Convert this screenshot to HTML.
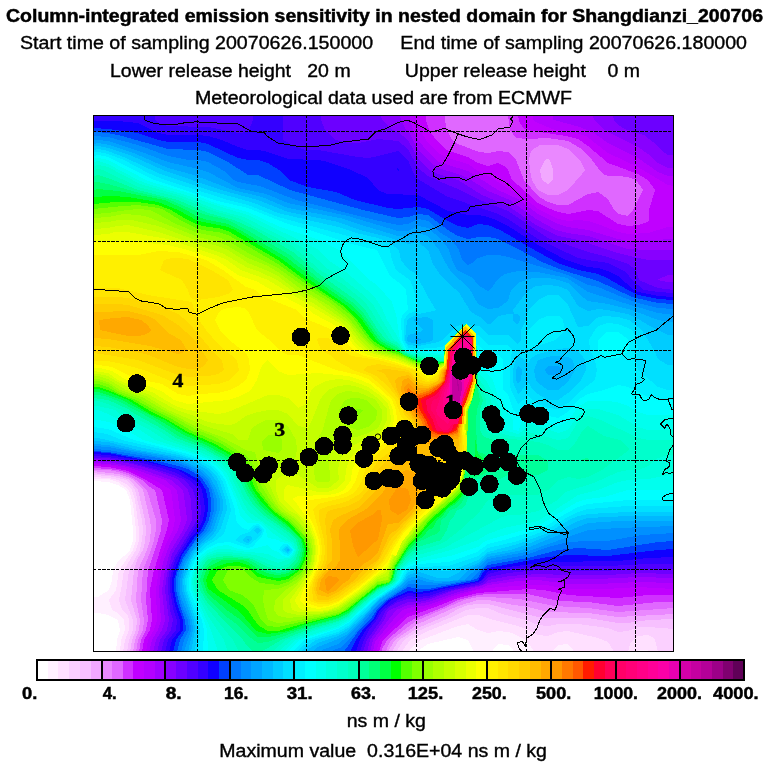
<!DOCTYPE html>
<html><head><meta charset="utf-8"><title>Column-integrated emission sensitivity</title>
<style>
html,body{margin:0;padding:0;background:#fff;}
body{width:768px;height:768px;overflow:hidden;}
svg{display:block;}
text{font-family:"Liberation Sans", sans-serif;fill:#000;white-space:pre;}
.serif{font-family:"Liberation Serif", serif;font-weight:bold;}
</style></head><body>
<svg width="768" height="768" viewBox="0 0 768 768">
<rect width="768" height="768" fill="#fff"/>
<g shape-rendering="crispEdges">
<rect x="93" y="115" width="581" height="537" fill="#ffffff"/>
<path fill="#fff0ff" d="M93 115l581 0 0 537-161 0 0-2-5-5-10-1-5 6 0 2-20 0 0-2-5-10-10-3-30 7-9 6-1 2-302 0 1-12 3-10-2-10-10-5-10-2-5 0 0-16 5 0 11-7 3-10 1-10 6-10 9-7 2-3 3-10 0-10-3-30-4-10-8-5-10-3-15-1z"/>
<path fill="#ffe0ff" d="M93 115l581 0 0 537-26 0 0-2-10 0 0 2-65 0 0-2-5-6-10 1-5 5 0 2-20 0 0-2-7-10-12-6-6-2-10-1-10 2-10-3-10-6-10 2-37 14-12 10-1 2-288 0 1-12 4-10-1-10-6-7-6-3-3-10 7-10 3-20 14-20 3-10 0-10-3-26-4-14-11-8-10-3-15 0z"/>
<path fill="#fbd0ff" d="M93 115l581 0 0 537-16 0-3-12-3-3-4-2-10 1-4 3-4 5-2 8-15 0 0-2-5-8-10-4-30-7-10 1-10 4-10-1-9-5-11-4-24-6-16-5-10 0-40 16-18 9-7 10-1 2-279 0 2-12 4-10 0-10-1-4-6-6-3-10 2-10 3-20 12-20 3-10 0-10-4-30-3-10-2-2-2-3-10-5-10-2-15-1z"/>
<path fill="#f7c0ff" d="M93 115l581 0 0 514-26-2-10 0-10 4-10 1-10-4-30-4-20 0-10 2-10-1-12-5-24-6-14-6-10 0-12 2-14 7-34 14-14 9-6 9-1 3-270 0 2-12 4-10 0-10-8-20 4-30 11-20 2-10 1-10-1-10-7-30-3-5-6-5-8-2-10-2-15-1z"/>
<path fill="#f2a8ff" d="M93 115l581 0 0 504-26 1-20 3-10 0-30-5-40 0-10-1-50-13-10 0-10 1-10 4-10 6-30 13-19 12-6 10 0 2-263 0 2-12 4-10 1-10-6-20 3-30 3-10 6-10 2-8 1-12-1-10-7-30-8-10-12-4-25-3z"/>
<path fill="#ea88ff" d="M93 115l581 0 0 499-56 3-30-4-40-1-20-5-20-3-20-4-10 0-20 6-40 18-23 16-6 10 0 2-256 0 2-12 4-10 1-10-4-20 2-30 9-20 3-10 1-12-1-8-7-30-9-10-6-3-10-3-25-3zM546 159l-3 5-3 6 2 10 6 4 5-4 0-10-3-10-2-1z"/>
<path fill="#e068ff" d="M93 115l581 0 0 493-56 4-30-4-34-2-34-7-32-2-10 0-14 3-48 21-25 19-4 8-1 4-250 0 2-12 5-10 1-10-3-20 2-30 8-20 3-10 2-10 0-10-9-30-11-10-8-5-10-3-10-2-15 0zM540 145l-8 5-2 4-1 6 1 10 2 10 6 10 10 5 10 0 4-2 6-3 14-16 3-4-5-10-6-5-6-6-10-4-10 0z"/>
<path fill="#d030ff" d="M93 115l352 0 0 5 2 10 5 10 6 4 21 8 9 1 10-2 10 1 2 1 6 7 8 20 14 16 10 6 10 3 10 0 20-11 10-2 10 7 6 11 4 4 10 2 5-6 10-20-7-10-8-3-10-1-9 0-5-1-3-3-9-12-4-5-8-7-12-7-20-3-20 1-12-1-3-4-3-4-2-15 166 0 0 487-16 0-30 3-10 1-30-4-30-1-30-7-40 0-10 1-20 5-14 7-30 12-8 5-18 15-6 10 0 3-243 0 2-12 5-10 2-10-2-20 2-30 7-20 6-20 1-10-7-30-7-4-6-6-12-6-8-3-14-2-15-1z"/>
<path fill="#c000ff" d="M93 115l333 0 0 5 3 10 7 10 10 10 22 7 10 6 10 3 10-3 6 3 4 4 4 10 6 5 20 18 10 5 10 4 10 2 20-4 10 1 20 13 10 2 10-1 9-3 2-2 0-10 6-20-7-10-10-6-30-11-20-17-10-7-12-3-39-6-4-2-4-7-1-6 156 0 0 480-26 0-30 3-50-3-24-5-16-1-50 4-20 5-20 8-30 11-25 23-4 12-237 0 2-12 6-10 2-10-2-30 3-16 9-30 5-14 2-10-7-30-16-10-18-9-20-4-15-1z"/>
<path fill="#b400ff" d="M93 115l323 0 0 5 4 10 8 13 10 10 10 5 20 6 10 7 14 7 18 12 8 3 20 16 20 10 10 2 10-1 10 1 10 3 20 8 10 2 20-1 20-6 6 0 0 362-36-2-32 2-38 0-22-4-18 0-40 3-11 2-19 6-29 11-21 6-13 11-15 16-4 12-230 0 2-12 6-10 3-10-1-30 4-30 6-16 7-14 2-10-4-30-13-8-30-13-20-4-15-1zM533 115l141 0 0 71-6-1-30-18-30-14-22-17-10-3-21-3-17-7-5-3z"/>
<path fill="#a000ff" d="M93 115l317 0 0 5 3 10 5 10 10 12 9 9 11 4 10 3 10 3 30 19 20 9 20 15 20 10 10 3 20 3 30 9 10 2 46-2 0 344-36-1-40 2-30 0-30-4-20 1-30 4-6 3-24 6-30 11-20 3-5 2-5 4-20 24-3 4-2 10-224 0 3-12 6-10 3-10-2-30 1-10 3-18 7-18 8-14 3-10-4-30-12-10-37-13-20-3-15-1zM553 115l121 0 0 61-6 0-10-4-20-14-30-15-14-10-14-6-26-7-1 0z"/>
<path fill="#8800ff" d="M93 115l307 0 1 5 5 10 4 4 8 16 12 12 8 6 10 3 10 3 10 4 20 13 22 9 8 6 18 13 20 11 12 3 20 3 30 10 10 3 20 1 26 0 0 328-36-1-40 2-30 0-30-2-20 1-30 5-7 3-23 6-30 10-9 2-11 1-12 5-23 30-3 12-217 0 3-12 6-10 3-10-3-30 3-20 5-18 13-22 4-10-1-10-3-20-12-10-27-10-16-4-20-4-15-1zM593 115l81 0 0 53-6 0-10-5-10-9-10-7-34-17-10-10z"/>
<path fill="#6c00ff" d="M93 115l288 0 1 5 10 10 6 2 10 8 10 18 10 11 10 5 20 6 24 15 26 11 28 19 14 7 8 4 20 4 40 13 20 5 10 2 26 0 0 15-6 0-11 5 11 2 6 0 0 292-36-1-30 2-40 0-30-1-28 2-22 4-4 4-6 2-23 4-27 10-10 2-10 0-18 8-2 1-4 9-14 20-3 12-210 0 3-12 7-10 2-10-4-30 1-10 2-10 4-16 15-24 5-10-1-20-3-10-9-10-4-2-21-8-22-6-24-4-15-1zM613 115l61 0 0 40-6 0-7-5-8-8-9-7-17-5-9-5-4-5z"/>
<path fill="#5000ff" d="M93 115l228 0 0 5 4 10 11 10 12 3 10 0 20-4 20 2 10 8 10 19 10 8 20 9 10 4 22 11 28 11 40 27 40 14 20 5 20 7 8 6 3 10 9 4 10 4 16 2 0 279-26 0-50 2-60-1-30 3-20 4-4 5-6 3-26 5-24 8-10 1-10 0-10 3-10 6-2 2-5 10-14 20-4 12-202 0 3-12 7-10 2-10-3-10-2-20 0-10 2-12 5-12 22-36-1-20-3-10-8-10-9-4-17-6-27-7-24-5-15 0z"/>
<path fill="#3400ff" d="M93 115l62 0 0 5 3 3 10 3 40 1 30 6 10-1 1-2 4-10 0-5 30 0 0 25 13 7 9 3 13 0 40 7 10 1 10-2 20-5 10 9 6 14 2 4 32 19 10 3 16 6 24 8 10 5 30 20 40 19 10 2 20 3 10 5 8 4 6 8 12 10 14 2 16 1 0 271-26 0-40 2-60 0-40 3-20 5-5 6-5 3-31 7-19 6-10 1-10-1-10 4-15 10-7 11-7 9-5 10-4 12-195 0 3-12 8-10 1-10-4-12-3-18 0-10 2-10 3-10 7-12 18-28 1-10-1-10-1-10-1-2-9-8-13-7-14-5-28-7-26-4-15-1z"/>
<path fill="#1000ff" d="M93 122l0-1 25 0 20 2 20 10 10 2 30 0 10 1 14 4 16 7 10 3 10 0 10 2 20 7 30 1 10 2 23 8 17 8 10 12 9 4 31 1 30 16 20 4 10 0 10 2 8 3 12 6 30 19 28 15 22 7 10 1 10 3 10 5 16 14 4 2 20 4 16 1 0 260-26 1-30 3-70 1-40 5-20 4-6 9-4 2-36 7-14 4-10 1-10-1-16 7-12 10-4 8-10 12-6 10-4 12-187 0 3-12 8-10 0-10-5-14-3-16 0-10 2-10 7-16 11-18 6-6 5-10 2-10-1-10-2-10-4-7-4-3-16-10-38-10-32-5-15-1zM397 168l2 2-1 1-1-1z"/>
<path fill="#0040ff" d="M93 128l15 1 30 4 20 7 10 2 30 0 10 2 30 14 10 2 10 0 10 3 14 9 7 8 19 7 28 5 19 8 33 8 10 1 20-2 10 2 20 12 10 5 10 2 10-4 10 1 12 5 38 22 20 11 20 7 20 4 9 4 21 12 10 5 20 4 16 1 0 249-16 1-50 6-40-1-20 2-60 11-4 3-6 10-38 7-12 3-10 1-10-1-19 9-11 10-4 8-12 13-6 9-5 10-1 2-177 0 3-12 7-10 0-10-6-16-3-14 0-10 2-7 6-18 12-17 7-8 5-10 2-10 0-10-2-10-6-10-19-10-36-10-37-7-15-1z"/>
<path fill="#0078ff" d="M96 132l12 1 14 3 46 13 30 1 10 2 20 10 20 13 10 0 32 15 73 20 35 8 10-1 10-3 10 1 20 15 10 6 10 3 10-2 10 0 10 2 20 10 24 13 20 8 26 8 10 3 34 16 26 6 16 1 0 237-16 1-50 8-30-2-20 2-30 8-40 7-6 5-4 8-5 2-45 9-10 0-10-2-21 13-9 8-6 9-13 13-11 16-3 4-1 2-167 0 3-12 6-10-1-10-5-14-4-16 0-12 2-8 5-12 13-19 8-9 5-10 2-10 0-10-2-11-6-9-5-5-10-6-10-3-24-6-46-8-15-1 0-319z"/>
<path fill="#0090ff" d="M93 136l15 1 30 8 30 11 20 4 10 0 10 2 16 9 10 9 4 2 10 2 12 2 36 14 79 20 23 5 10-1 10-5 10 2 10 10 14 9 7 10 3 10 6 5 4-2 6-5 10-3 10 0 10 2 60 18 20 10 10 2 24 10 16 6 20 5 16 1 0 224-32 2-35 6-19 0-20 1-20 5-22 8-38 7-18 18-3 0-19 4-20 1-20-1-4 4-19 12-7 5-27 33-11 10-7 2 0 2-152 0 3-12 5-10-1-10-6-14-4-16 0-10 2-10 4-11 11-17 12-12 3-6 4-14 0-10-2-10-5-10-10-8-9-5-10-4-20-5-50-8-15-1z"/>
<path fill="#00a4ff" d="M93 140l5 0 10 1 34 11 26 10 30 7 10 3 30 16 28 6 22 9 60 13 50 15 10 0 10-5 10 2 14 12 7 10 3 10 5 10 16 8 5 7 10 6 2-1 8-11 7-5 13-3 20 1 29 6 21 14 46 14 24 7 16 2 0 211-56 2-30 2-62 22-38 7-24 21-2 0-24 3-10-1-10-3-10 2-4 5-6 4-19 13-31 33-10 8-16 6-2 2-136 0 7-22-1-10-10-26 0-14 4-16 6-11 8-11 11-10 2-4 6-18 0-10-3-10-5-10-10-10-11-5-12-5-16-3-52-10-15-1z"/>
<path fill="#00b8ff" d="M93 144l5-1 12 2 26 9 32 14 26 7 39 15 29 7 26 11 52 10 28 9 30 9 10 0 10-3 10 3 11 14 5 10 7 12 18 16 9 16 10 5 10-1 10-7 3-11 9-8 12-4 16 0 10 2 10 3 7 7 5 5 8 6 20 3 24 6 26 10 10 2 6 0 0 199-56 0-30 2-10 4-24 10-32 13-34 7-10 8-10 5-10 10-10 1-10 0-8-1-12-4-10 2-6 7-24 16-13 15-17 18-10 5-20 8-4 3-1 2-125 0 5-22-1-10-10-30 0-10 3-14 7-14 6-7 15-15 7-20 0-10-3-10-7-13-8-7-14-7-22-7-35-6-23-5-15-1zM416 338l-2 2 2 1 6-1-4-2zM548 366l-3 4 3 5 10 0 4-5 0-2-4-2z"/>
<path fill="#00ccff" d="M93 146l5 0 10 2 24 8 31 14 58 20 37 10 30 12 50 10 22 8 28 7 20 7 10-2 10 8 5 14 8 12 10 10 7 5 13 21 9 5 7 7 3 0 8-8 10-2 5 0 0 6 3 4 2 0 2-4 0-3-2-3-4 0-1-4 12-16 4-4 7-4 12-1 10 1 10 4 10 16 10 5 10-2 9 1 21 4 12 6 8 5 20 10 6 0 0 181-46 0-40 2-10 3-26 13-24 10-17 6-23 4-10 9-16 7-4 3-10 5-10 0-19-6-11 3-6 9-24 16-14 16-18 16-8 4-12 4-8 3-11 7 0 2-116 0 4-22-1-10-10-30-1-10 7-20 4-8 4-5 14-11 4-6 7-20 0-10-6-18-5-7-6-6-17-9-15-4-36-6-30-8-15-1zM246 539l2 2 1-1-1-1zM258 529l-1 1 1 1zM288 548l-2 2 2 2 1-2zM426 317l-8 1-5 2 10 10-3 2-12 3-1 5 1 2 10 2 11-2 4-2 0-20-4-2zM518 366l-2 4 0 10 2 4 3-4 1-10zM552 356l-4 1-10 3-4 10 2 10 2 3 10 7 10 0 10-8 7-12-2-10-3-2-2-1-8-1z"/>
<path fill="#00e0ff" d="M93 150l5-1 10 2 18 7 32 15 50 17 46 13 24 10 60 14 18 6 22 5 10 4 11 8 2 10 7 9 8 5 12 23 8 13-2 1-16 3-10 5-1 1-2 20 3 5 10 1 20-4 4-2 4-4 4-3 6-7 6-1 4-2 2 2 11 1 9 9 20 0 9 9 1 0 3-4 0-10 4-8 3-11 10-11 10-5 10 0 10 10 10 22 10-1 8-8 8-2 14 1 11 3 13 10 12 20 4 9 10 6 6 0 0 147-46 0-40 2-10 2-9 4-21 13-30 11-30 8-10 8-20 8-10 3-30-2-10 3-6 10-25 18-15 15-14 13-10 6-22 6-14 10 0 2-107 0 2-22-1-10-10-30-1-10 6-20 5-8 10-9 8-5 7-10 6-18-1-10-6-18-5-8-7-6-13-8-17-5-30-6-50-11-5 0zM246 536l-4 4 2 2 4 1 4-3 0-2-2-2zM256 528l-2 2 2 3 2 1 3-4-3-2zM286 547l-2 2 0 1 4 3 2-3-2-3zM568 348l-10 1-20 5-7 4-3 6-3-4-7-5 0 1-3 6-2 8 0 12 5 12 4-4 6-8 5 8 5 4 10 6 10 0 10-7 13-13 5-10-1-10-4-6-4-3z"/>
<path fill="#00f0ff" d="M93 152l5 0 10 2 16 6 24 13 17 7 63 20 20 5 30 12 48 13 22 6 21 4 19 8 2 2 2 10 4 10 14 10 4 10 2 10 2 10-10 4-4 6 0 20 4 7 0 1 10 1 25-2 23-24 10 11 0 1 2 0 10 10 20 0 4 5-2 18 0 18 1 4 7 14 10-8 10 8 10 4 10 1 10-6 10-10 17-13 2-10-2-10-5-10-1-10 6-10 3-4 10-3 10 1 10 4 4 2 5 10 1 11-2 9 2 10 20 17 10 3 6 0 0 116-46 0-40 3-10 3-10 5-22 13-28 11-30 7-10 8-20 7-10 3-30 1-10 2-7 13-7 6-19 12-27 26-10 6-28 8-12 10-1 2-99 0 2-22-2-10-11-30 0-10 5-18 6-8 10-9 8-5 8-6 7-24-2-10-6-18-5-8-8-8-12-6-20-7-56-13-15-6-14-2zM256 526l-4 3-3 3-9 3-5 5 11 5 2 0 2-1 10-8 2-4 0-2-2-2-2-2zM288 545l-4 2-3 3 3 2 4 2 2-2 2-2zM547 316l12 0 4 4 2 10-5 6-5 4-21 7-6 3-2-10 2-9 10-11z"/>
<path fill="#00ffff" d="M93 156l5-1 10 2 46 23 64 21 30 7 40 16 22 6 38 13 20 5 9 2 13 26 8 6 8 8 2 20-5 4-2 6 1 20 5 10 1 0 36 1 0-5 22-23 10 11 0 11 2 0 10 10 10 0 5 5 0 30 5 4 2 6 3 10 5 5 10-10 10 7 10 4 10 2 10-6 10-12 10-6 16-4 14-5 10 2 14 7 8 4 8 1 16 1 0 100-46 0-40 4-10 3-18 10-12 8-10 5-34 10-16 4-11 8-19 7-10 3-30 2-10 3-3 3-5 10-4 4-22 16-26 23-10 6-34 11-10 10-1 2-90 0 1-22-2-10-13-30 0-10 2-10 4-10 3-5 10-7 10-5 11-1 15 5 4 1 4-1 3-3 3-4 4-3 2-7-6-6-6 2-4 4-6-2-4-4-2-4-1-10-3-10-7-20-7-10-10-8-20-8-54-14-26-11-15-2zM284 544l-3 2-2 4 4 4 5 2 4-4 1-2-5-6zM607 332l1 0 10 0 10 7 1 11-1 2-10 6-10 0-10-7 0-11z"/>
<path fill="#00ffee" d="M93 158l5 0 10 2 40 21 44 13 26 10 30 8 30 14 41 14 20 10 15 14 15 16 7 4 9 10 7 8 4 12 4 26 6 10 2 1 36 3 0-8 22-23 10 11 0 27 2 4 15 15 3 10 2 6 6 5 3 11 6 8 0 10 2 0 3 1 1-1 3-10 6-6 10 6 20 6 10-5 10-14 10-6 20 0 8 1 12 4 10 6 10 3 26 0 0 75-46 0-24 7-16 2-11 3-21 13-8 5-10 6-50 14-6 3-4 4-28 9-32 6-10 3-5 5-4 10-3 4-24 16-24 22-10 6-39 12-10 10 0 2-81 0-1-22-3-10-13-30 0-10 2-10 5-12 10-8 10-4 10-1 10 4 10 1 20-5 4 5 6 2 4 4 6 1 4-3 2-4-6-7-8-1-2-2-10-2-1-2-1-6-6-6-2-1-11 0-3-3-4-5-4-15-10-22-5-8-12-10-21-8-45-12-13-8-21-10-11-2-5 0z"/>
<path fill="#00ffdd" d="M93 162l5-1 10 3 30 16 10 4 38 11 32 11 30 9 71 35 9 10 18 12 28 24 8 12 5 12 9 14 3 6 5 10 4 2 36 4 0-10 22-23 10 11 0 29 2 10 8 7 14 28 3 12 0 10 1 0 14 4 6-4 4-7 30 10 10-3 10-15 10-6 10 0 10 3 12 4 18 11 10 3 26 0 0 45-6 0-20 4-20 1-10 2-20 8-20 5-26 17-14 9-34 7-16 6-10 6-27 10-33 9-10 4-6 7-4 10-3 4-24 16-21 19-12 7-42 14-11 10-1 2-66 0-7-22-18-40-1-10 3-10 4-10 9-7 10-4 10 0 10 2 22 2 8 1 10 5 12-1 3-4 2-4-3-5-2-3-7-2-12-8-9-10-10-2-4-4-6-8-15-34-5-6-9-8-17-7-41-13-15-10-16-8-16-8-10-4-5 0z"/>
<path fill="#00ffcc" d="M93 166l5-1 10 2 32 17 42 12 35 14 27 7 58 30 9 7 7 6 10 9 9 5 29 23 8 9 14 24 6 10 4 2 5 8 5 3 20 4 10 0 6 2 1-13 21-23 10 11 0 30 2 14 6 8 7 14 2 10 0 20 1 0 12 5 12 2 6-1 4-4 30 8 10-2 10-16 10-6 13 4 37 18 10 2 26 0 0 15-6 0-10 3-10 8-9 4-11 0-10 2-24 11-26 8-5 3-5 6-20 11-20 4-10 0-8 3-56 30-26 7-10 6-8 9-3 10-3 4-12 6-10 8-24 20-10 6-22 6-24 10-12 10-1 2-51 0-4-12-16-24-13-26-1-10 2-10 2-5 4-5 6-5 10-3 10 0 28 3 22 8 14-5 3-4 1-4-2-6-2-2-43-30-5-8-16-34-11-10-19-9-33-11-15-10-26-13-9-7-17-4-5 0z"/>
<path fill="#00ffbb" d="M93 170l5-1 5 1 35 17 40 10 33 13 27 8 54 28 11 9 17 15 24 15 20 16 8 11 6 10 12 18 8 3 5 7 5 3 20 6 16 1 1-14 20-22 1 0 10 10 0 30 2 12 0 7 5 7 3 10 0 30 2 3 16 5 34 4 10 3 10 5 10 0 6-5 9-15 5-4 16 10 16 4 9 9 0 1-27 20-14 7-10 2-10-2-9 3-11 10-10 5-30 0-20 5-10 14-12 10-6 6-14 11-8 4-20 6-10 7-10 12-2 10-2 2-20 12-26 23-10 5-26 8-26 10-12 10-1 2-35 0 0-2-5-10-5-6-20-25-10-17-2-12 2-11 6-9 4-3 10-3 10 0 24 3 16 7 11 3 9-3 6-6 3-8 0-4-3-4-6-7-27-19-9-8-8-10-13-28-10-10-15-8-33-12-15-10-26-14-10-6-14-6-10-3-5 0z"/>
<path fill="#00ff99" d="M93 176l5-1 10 3 30 12 40 10 30 13 26 7 20 9 39 23 25 21 35 25 13 13 12 19 8 10 12 6 3 4 7 4 20 6 16 1 1-15 20-22 1 0 10 10 2 47 0 7 5 12-3 10 0 20 2 4 2 3 9 3 5 10 10 5 30 0 9 5 1 0 0 10-10 5-30 0-10 5-10 7-2-1-4-6-4-1-2 1-2 0-1 12-5 5-2 7-3 4-6 2-3 6-4 4-3 10-6 10-3 1-20 6-10 8-10 14-3 11-4 4-13 6-32 27-8 4-28 8-29 11-13 8-4 2-1 0 0 2-10 0-1-2-4-3-5-7-15-15-10-11-10-10-8-14-2-10 2-10 8-11 10-2 10-1 20 2 6 2 14 7 10 3 3 0 7-3 8-8 3-9-2-6-1-4-8-8-26-18-8-8-7-11-13-25-10-10-21-12-27-10-12-8-29-16-7-5-20-9-15-2zM587 458l2 2-1 2-8-2z"/>
<path fill="#00ff77" d="M93 182l4 0 11 2 28 8 32 7 35 15 25 6 19 10 43 25 28 23 34 24 12 12 18 26 16 8 3 4 7 3 20 7 16-1 0-9 1-6 21-23 10 11 1 52 3 14-3 10-1 10 1 30 1 2 6 2 3 2 1 5 0 9-3 4-7 2-10 4-2 14-4 8-6 6-6 2-4 7-5 3-1 10-2 3-20 9-4 6-6 4-11 16-4 12-5 5-10 4-14 11-16 14-10 5-32 9-38 14-10 1-10-7-10-11-10-7-20-19-5-9-3-10 3-10 5-6 5-4 5-1 9-1 21 1 20 12 10 2 10-2 10-9 3-12-1-4-2-6-10-10-24-18-9-10-7-10-10-22-10-10-20-12-30-12-24-16-36-19-10-4-10-2-5 0z"/>
<path fill="#00ff44" d="M93 190l5-1 20 2 47 9 21 10 12 7 10 3 20 4 12 6 46 27 30 23 34 24 12 12 17 24 25 15 14 5 10 3 16-1 0-10 1-6 21-22 10 10 1 48-4 16-5 12-1 42-3 28 2 6-2 8-8 10-9 5-4 7-6 4-4 8-5 2-4 6-6 4-4 5-6 5-12 18-3 12-5 4-10 4-16 12-14 13-10 5-32 9-28 8-10 2-10 0-6-5-14-14-10-7-20-17-2-4-3-10 3-10 2-3 10-5 4-2 6 0 14 0 6 2 12 8 10 4 8 1 10-2 10-7 3-6 2-10-2-10-13-13-17-13-10-8-11-16-10-20-10-12-22-12-26-12-23-14-37-20-14-5-10-3-5 0zM475 440l1 0 2 14 6 6-2 10-8 6-1-8 2-14z"/>
<path fill="#00ff00" d="M111 196l17 1 30 5 20 8 20 11 10 2 10 2 10 2 7 3 47 29 28 21 36 25 14 12 18 25 10 6 10 3 6 4 14 6 10 3 16-2 1-16 21-22 10 10 0 48-2 12-6 16-1 42-3 28 1 6-2 6-2 4-7 7-6 4-6 7-8 6-12 13-4 4-10 11-13 20-3 12-4 3-10 4-17 13-13 11-10 5-35 9-15 6-20 3-12-3-16-19-30-22-2-1-2-9 4-10 8-4 10-3 10-1 10 3 10 8 10 4 10 1 10-2 10-6 5-10 2-10-3-10-14-15-16-12-10-10-9-13-10-22-6-8-5-4-20-11-28-13-19-12-15-6-22-14-20-8-10-3-5 0 0-192zM475 454l4 6-1 10-4 3z"/>
<path fill="#55ff00" d="M116 202l22 0 20 3 13 5 13 8 14 7 10 2 10 1 10 3 50 29 28 21 36 24 13 12 17 23 6 4 10 6 10 2 20 10 10 3 16-2 1-17 21-22 10 10 0 47-3 15-5 14-1 42-5 39-4 5-28 24-6 8-16 18-13 20-4 14-3 3-10 2-31 25-9 5-36 9-14 4-10 3-10 0-10-6-9-13-7-7-24-15-6-10 6-10 10-4 10 0 10 2 10 9 20 4 10-2 4-3 8-6 5-10 2-10-3-10-13-16-19-14-8-10-8-10-11-24-4-6-7-5-19-11-29-13-18-11-16-8-20-12-15-6-9-4-10-3-5 0 0-183zM475 458l1 2-1 10-1-8z"/>
<path fill="#80ff00" d="M123 206l15-1 20 3 6 2 16 10 18 9 10 2 10 1 10 3 9 5 41 24 28 20 25 16 21 16 17 24 7 6 7 4 15 4 20 9 10 3 16-3 1-17 21-22 10 10 0 48-4 18-4 10-1 42-2 20-4 18-5 6-28 24-4 6-16 18-14 22-4 14-2 2-10 2-34 27-6 3-10 2-50 11-10-1-7-6-7-14-4-5-8-6-13-5-6-10 5-10 10-1 5 1 9 8 8 5 18 2 10-3 10-7 5-5 4-10 2-10-3-12-16-17-16-11-15-20-9-24-4-6-4-3-20-13-32-14-18-11-18-9-18-10-18-7-10-6-10-3-5 0 0-175z"/>
<path fill="#99ff00" d="M127 210l11-1 12 1 8 4 18 10 22 9 20 4 10 4 22 13 28 14 28 20 22 13 21 17 17 22 10 8 6 2 16 5 20 9 10 3 16-3 1-18 21-22 10 10 0 48-4 18-5 10 0 38-2 22-6 20-32 28-19 24-14 22-3 6-2 10-11 2-36 29-14 4-40 7-10 1-10-3-3-10-2-10 1-10 14-1 10-4 11-7 6-8 3-5 1-5 1-10-2-10-9-12-9-9-12-9-8-10-12-20-4-14-4-6-6-6-6-3-12-8-13-7-16-6-23-13-16-7-18-11-22-8-10-7-10-3-5 0 0-167 15-1zM356 409l0 1 2 5 5-5-5-1z"/>
<path fill="#b0ff00" d="M124 214l14 1 10 2 50 20 20 5 10 4 20 12 20 8 10 6 24 18 26 15 20 15 16 20 11 10 23 6 20 9 10 3 16-4 1-18 21-22 10 10 0 48-4 18-5 12-1 18 1 18-2 22-7 20-32 28-19 22-14 24-3 6-2 10-10 1-11 9-28 20-21 5-30 3-10-2-4-6 1-10 9-9 14-9 10-12 3-10 1-10-2-10-9-14-8-8-13-8-7-10-11-20-7-28-7-1-26-14-19-7-39-20-22-13-22-7-12-8-10-3-5 0 0-161 15-1zM268 435l-6 6 1 9 15 3 4-3 0-10-4-5zM352 398l-7 2-6 10 2 10 3 3 7 5 7 2 10-3 8-7 1-8 0-2-11-10-8-2z"/>
<path fill="#c4ff00" d="M118 220l14 0 26 6 40 15 20 5 10 4 20 13 20 8 10 5 18 14 20 10 12 9 20 14 13 18 10 9 9 3 18 4 20 9 10 3 16-4 1-19 21-22 10 10 0 48-4 16-6 14-1 18 2 12-1 16-4 20-5 11-31 28-20 23-12 18-4 10-2 8-10 3-13 11-27 19-20 5-20 1-10-2-5-3 0-10 15-16 11-14 3-10 1-10-1-10-4-7-12-15-12-8-6-7-11-23-1-10 2-5 10 2 10-2 7-5 2-10-1-10-8-14-10-6-12 0-8 4-6 4-4 12-10 0-6-6-24-7-40-17-22-14-20-6-18-11-10-3-5 0 0-153 15-1zM346 391l-8 3-7 6-3 10-5 19-6 11-4 10 0 10 2 20 3 2 10 0 2-2-1-20 3-12 4-6 6-3 15-2 11-4 10-5 4-8 0-10-6-10-18-8z"/>
<path fill="#d8ff00" d="M117 226l11-1 30 7 64 21 26 15 10 3 19 9 17 12 14 8 30 19 10 9 12 15 7 7 9 3 22 6 30 12 16-5 1-20 21-22 10 10 0 48-4 16-6 14 0 12-1 0 0 6 1 0 1 10-1 18-3 8-1 12-5 10-29 26-12 12-14 16-6 14-2 0-8 17-8 4-15 13-25 17-10 4-10 1-20 0-6-2-2-10 10-14 11-16 3-10 1-10-1-10-6-12-8-10-4-4-8-4-9-10-3-10 0-10 2-2 4-2 6-1 10 0 20 13 10 0 2-1 9-7-1-10 2-10 4-7 6-6 18-9 14-8 5-10 0-11-7-9-12-9-10-4-10-2-10 1-10 4-4 4-4 6-8 20-4 8-10-2-10-12-10-4-10 0-10 2-12 4-10 7-6 2-12-1-10-2-14-6-17-6-19-10-8-5-22-8-10-5-10-6-10-2-5 0 0-145 15-1z"/>
<path fill="#ecff00" d="M115 232l12 0 41 7 50 17 9 4 14 10 27 10 70 42 10 10 8 12 8 6 10 4 24 6 23 10 7 3 16-7 1-20 21-22 10 10 0 48-2 4-2 12-5 8-1 6 0 12-2 0 0 6 2 0-1 4 2 4-1 17-3 11-1 12-5 10-38 32-17 22-6 14-2 0-1-2-5 13-4 5-7 4-17 14-22 16-10 4-10 1-10 0-8-2-4-6-1-3 18-30 2-10 1-10-1-10-5-13-7-9-19-18 0-10 2-4 2-1 30 7 10 0 10-4 7-8 1-10 3-10 3-4 8-7 22-14 6-5 3-10-1-10-2-6-3-4-7-6-10-7-10-4-10-3-10-1-12 2-10 5-5 4-3 13-10 5-10-10-10-3-10 0-40 17-10 2-30-4-10-3-13-7-11-7-26-9-10-4-10-7-15-2 0-136 15-1z"/>
<path fill="#ffff00" d="M112 242l16-1 40 4 20 5 28 10 22 15 20 7 10 6 41 22 5 4 24 13 10 10 6 9 7 6 10 4 27 6 22 8 8 6 16-10 1-20 21-22 10 10 0 48-2 4-2 13-5 7-1 4 0 14-2 0 0 6 2 0-1 6 1 3 0 14-2 3-1 18-6 14-38 32-17 22-6 14-4-2-4 10-6 6-7 6-17 14-20 14-10 3-10 2-10-2-5-3-3-4 3-10 11-20 3-10 1-10-1-10-6-16-14-20-5-5 6-3 30-1 10-2 6-3 7-10 1-10 5-10 15-14 16-11 4-5 2-10-1-10-4-10-19-16-12-5-10-3-20-2-10-1-30 2-10-4-10-11-5 4-3 6-3 10-3 5-3 5-3 2-10 5-10 3-40 4-14-4-11-8-11-5-24-6-16-10-12-3-7 0 0-126z"/>
<path fill="#fff000" d="M154 252l4-1 20 1 28 8 17 10 23 17 9 3 7 6 35 14 7 8 24 10 10 5 13 15 5 4 8 4 24 4 20 7 9 3 11 8 5-2 6-6 5-3 2-5 0-14 20-22 8 10 0 10 1 2 0 32-2 4-2 14-6 11 0 7-1 0 0 8-1 0 0 6 3 10 0 10-5 6-7 4-2 10 0 10-4 8-26 26-19 20-9 14-6 13-8 9-22 18-20 14-10 4-10 1-8-3-5-4 2-10 9-20 3-10 1-10-1-10-5-14-8-16 1-6 1-4 2 0 28-4 9-4 4-3 5-9 3-10 5-10 11-10 15-12 6-8 1-10-1-10-4-10-4-4-10-9-10-8-10-4-22-5-38-15-10 0-9-5-11-11-11-9-9-19-4-3-6-1-10 1-7 2-3 4-3 6 5 10 9 10 17 13 3 6 1 11-4 10-8 6-8 4-12 3-20 1-10 2-10-2-16-10-20-4-14-5-16-8-19-3 0-109 45 0z"/>
<path fill="#ffe400" d="M172 258l6 0 10 1 23 11 17 10 5 10-5 4-10 3-20 3-6-1-2-2-2-7-6-10-18-8-4-2 4-10zM93 288l25 0 30 7 44 7 2 8 5 10 7 10 12 14 7 6 12 10 2 10-9 10-8 3-4 1-30 2-10-2-34-14-22-6-14-3-15 0zM465 326l1 0 8 10 0 10 1 2 0 32-3 8-2 12-5 8-1 16-1 0-1 6 2 20-6 6-4 1-3 3-2 10 1 10-2 3-4 7-18 16-24 27-9 13-8 14-7 9-6 5-6 6-28 21-10 3-10 0-6-2-3-2 0-10 4-10 8-20 1-10-1-10-8-31 5-5 24-6 6-2 6-3 3-4 5-8 3-11 7-10 6-7 14-11 6-7 10-3 1-2-1-5-7-9-6-16-13-14-12-10-17-6-7-4-11-6-5-5-9-5-4-10 1-2 10 0 3 2 7 2 7 10 7 4 26 4 30 8 6 2 9 8 5 3 10-6 2-5 4-3 2-5 0-14z"/>
<path fill="#ffd800" d="M93 298l0-1 25 0 10 1 34 9 16 7 10 8 26 31 8 7 2 10-6 4-10 2-20 1-10-2-40-15-30-5-15-2zM465 326l1 0 8 10 0 10 1 2 0 32-3 8-2 12-5 8-1 16-2 0 0 26-4 4-8 0-2-4-1 0 1 10-3 10 2 10-4 4-4 6-25 26-21 26-10 18-5 6-16 14-24 18-10 4-10 0-4-1-1-3-1-8 2-10 6-10 4-10 1-10-1-10-5-20 0-10 9-4 10-2 10-3 10-6 5-5 5-10 4-10 6-9 18-14 6-8 6-4 4-5-3-10-5-6-6-15-10-13-12-10-13-6 5-4 10-2 30 6 10 9 8 3 2 0 8-2 2-3 2-7 5-4 1-4 0-14z"/>
<path fill="#ffcc00" d="M93 304l25 0 10 1 24 7 12 4 14 9 16 14 14 21-4 6-6 3-10 0-10-2-32-13-38-7-15-1zM465 326l9 10 0 10 1 2 0 32-6 20-4 8-1 16-2 0-2 26-2 3-4-1-6-7-6 5 0 10-3 20-9 14-2 6-6 4-4 6-15 16-5 6-6 5-14 25-14 12-5 6-7 4-14 11-10 5-10 0-2-5-2-5 2-10 7-10 4-10 0-20-2-20 2-8 4-2 17-4 10-5 5-5 9-10 6-17 9-9 16-10 4-10 5-4 2-6-2-10-8-9-6-15-7-12-6-10-9-4 12-1 20 3 10 10 6 2 4 0 10-3 3-11 4-2 1-6 0-14z"/>
<path fill="#ffbc00" d="M108 312l9-1 11 0 20 5 6 3 16 15 11 6 6 10-5 3-4 1-28-8-42-7-15-1 0-26zM465 326l9 10 0 10 1 2 0 32-6 20-4 8-1 16-3 0-3 26 0 1-2-1-2-8-3-2-3 0-1 0-9 8-5 2 0 20-10 30-15 19-6 4-4 6-8 5-12 26-6 4-11 8-6 8-17 12-10 5-10-2-2-5 2-10 8-10 2-6 4-4 0-20-2-10 3-10 7-4 18-8 6-5 12-13 12-20 10-10 14-6 3-4-1-10 3-10-3-10-10-16-7-14-2-10 3-3 10-2 10 10 10 1 10-5 4-11 3-2 1-4 0-16z"/>
<path fill="#ffa800" d="M114 318l14-1 13 3 7 5 3 5-3 3-4 2-6 1-10 0-10-2-18-4-1-10zM465 330l1-1 0 1 7 8 0 42-5 18-5 11-1 15-1 0-2 12-1 3-14 1-6 4-10 0-7-6-4-18-10-12-3-8-3-10 1-8 1-2 5-2 10 10 10 0 11-5 2-3 2-10 3-2 2-18zM406 470l2 0 10 4 2 6-3 20-5 10-14 13-10 1-10 28-8 8-8 5-4 5-6 4-3 6-7 4-5 6-9 4-8-4-1 0 2-10 7-9 7-3 5-8 0-10-1-20 2-4 6-6 21-12 15-16 8-12 7-6z"/>
<path fill="#ff9800" d="M465 330l8 8 0 42-6 20-4 8-1 16-2 0-2 11-1 1-19 3-10-1-5-4-4-14-13-20-2-12 4-5 7 7 3 1 10-2 10-5 4-4 2-10 3-2 1-18zM397 488l1-1 10 2 3 11-4 10-9 5-8-5-1-10zM378 510l3 0 1 10-4 20-6 4-4 5-6 4-4 4-5-11-3-16 9-8 13-7zM328 576l8 1 3 3-5 5-4 5-2 1-2-1-1-10z"/>
<path fill="#ff7800" d="M465 330l1 0 7 8 0 42-6 20-4 8-1 16-3 0-1 8-2 2-18 4-8-2-4-4-5-12-14-20 0-10 1-2 5 4 5 2 10-3 11-7 4-4 2-10 2-2 1-18z"/>
<path fill="#ff5800" d="M465 330l1 0 7 8 0 42-7 22-3 6-1 16-3 0-1 8-4 1-6 2-12 0-6-2-3-3-3-10-7-10-6-10 3-3 14-4 10-7 3-2 3-4 2-10 1-2 1-18z"/>
<path fill="#ff1c00" d="M465 330l1 0 7 8 0 42-7 22-3 6-1 16-4 0-1 6-4 2-5 2-10 0-8-4-4-10-6-10-4-10 2-1 12-5 9-6 3-4 3-4 1-10 1 0 1-20z"/>
<path fill="#ff0030" d="M465 334l1-1 6 7 0 38-11 30-2 14-5 8-6 3-10-1-5-2-4-10-6-10-2-10 12-6 11-10 2-4 1-10 2 0 1-18 9-12z"/>
<path fill="#ff0058" d="M465 334l1-1 6 7 0 38-11 30-3 16-4 0-2 6-4 2-10-1-2-1-3-10-6-10-1-10 10-5 8-11 5-14 1-18 9-12z"/>
<path fill="#ff0068" d="M465 334l1-1 6 7 0 38-11 30-3 16-6 0-4 6-4 0-2 0-4-5-3-9-4-6 0-4 2-6 5-2 3-8 6-8 2-10 0-8 1-2 0-10 9-12z"/>
<path fill="#ff0078" d="M465 338l1-1 4 5 0 36-8 21-1 7-3 6-6 5-4 7-10-8-2-6 7-20 5-10 3-14 1-2 1-10 5-8z"/>
<path fill="#ff0088" d="M465 338l1-1 4 5 0 36-8 20-1 6-9 10-2-2-2 3-5-5 0-10 2-10 4-8 2-16 1-2 0-6 2-6z"/>
<path fill="#ff0098" d="M465 338l5 4 0 36-8 20-1 6-9 10-1-2-1-6-2-2-2-4 1-10 3-5 1-19 1-2 0-6 2-6z"/>
<path fill="#fc00a8" d="M454 362l2 1 4 0 2 1 1 6 2 0-1 22-3 12-5 7-2-1-4-8-1-12 1-14z"/>
<path fill="#e800b0" d="M454 362l6 1 3 1 1 14 0 14-3 12-5 7-6-9 0-26z"/>
<path fill="#d400a8" d="M455 368l1-1 5 1 0 14 1 0 0 8-1 2-1 8-1 2-3 3-4-9 0-20z"/>
<path fill="#c400a0" d="M455 368l6 0 0 14 1 0 0 8-1 2-1 8-1 2-3 3-4-9 0-20z"/>
<path fill="#b40098" d="M458 378l1 12-1 1-1-11z"/>
</g>
<g stroke="#000" stroke-width="1" fill="none" stroke-linejoin="round" shape-rendering="crispEdges"><polyline points="144,115 145.1,120.2 153.4,123.3 161.8,124.4 172.2,125 182.6,123.3 185.7,122.3 197.2,121.9 209.7,122.9 236.8,123.3 248.2,129.6 253,131.7 264.5,132.7 266.5,135.8 278,143.1 297.8,146.3 315.5,146.3 330.1,145.2 342.6,142.1 368.6,139 375.9,131.7 386.3,128.5 398.8,122.3 407.2,120.2 413,122.3 421.3,126.5 430.7,132.1 444.3,128.5 457.8,133.8 467.2,136.9 479.7,139.6 492.2,134.8 498.4,128.5 509.9,127.5 513,121.3 510.5,119.2 514,115"/><polyline points="457.8,133.8 454.7,142.1 447.4,156.7 442.2,165 435.9,167.1 432.8,171.3 433.8,176.5 439,179.2 450.5,177.1 458.8,177.5 466.1,180.6 473.4,176.5 483.8,173.8 491.1,173.8 496.3,177.5 504.7,181.7 510.9,186.9 517.2,193.1 523.4,199.4 517.2,202.5 509.9,205.6 502.6,202.5 492.2,203.5 481.8,205 470.3,206.7 468.2,210.8 456.8,212.5 449.5,216 444.3,219.2 442.2,224.4 435.9,227.5 428.6,230.6 419.3,232.3 413,232.7 409.3,233.8 403,237.9 394.7,242.1 388.4,246.3 382.2,246.3 369.7,242.1 359.3,239 350.9,237.9 345.7,241 342.6,245.2 340.5,251.5 342.6,258.8 347.8,264 344.7,269.2 334.3,274.4 325.9,279.2 319.7,285.4 307.2,290 294.7,292.7 273.8,294.8 253,296.9 236.8,300 222.2,303.1 209.7,308.3 197.2,314.2 188.8,312.1 187.8,308.3 176.3,309.4 165.9,308.3 159.7,304.2 149.3,302.1 143,301.7 134.7,297.9 128.4,291.7 113.8,290.6 93,289.2"/><polyline points="479.7,369.8 475.5,375 476.5,383.3 481.8,390.6 492.2,394.8 500.5,400 503.6,408.3 510.9,413.5 521.3,416.3 525.5,414.6"/><polyline points="479.7,369.8 492.2,371.3 502.6,369.8 510.9,364.6 515.1,358.3 521.3,353.1 529.7,350.4 538,344.8 546.3,335.4 554.7,331.3 565.1,330.8 567.2,328.1 573,335.4 575,340 573,345.8 567.2,352.1 562,357.3 558.8,361.5 555.7,362.1 562,364.6 563,367.7 559.9,372.9 554.7,376 552.6,378.1 556.8,379.2 565.1,375 573,369.8 577.2,365.6 587.6,361.5 598,357.3 601.1,355.2 604.3,357.3 614.7,355.2 622,353.8 625.1,346.9 629.3,341.7 641.8,335.4 656.3,330.2 664.7,322.9 674,315.6"/><polyline points="622,353.8 627.2,359.4 633.4,358.8 645.9,360.4 643.8,368.8 641.8,378.1 644.9,379.2 641.8,382.3 635.5,384.4 634.5,389.6 631.3,393.8 635.5,394.8 639.7,394.8 641.8,399 644.9,401 649,399 651.1,394.8 655.3,397.9 661.5,400 667.8,399 674,397.9"/><polyline points="667.8,399 669.9,404.2 672,409.4 674,409.4"/><polyline points="674,417.7 664.7,419.8 660.5,424 664.7,428.1 666.8,424 669.9,428.1 670.9,435 674,438.1"/><polyline points="674,444.4 669.9,449.6 667.8,455.8 665.7,461 669.9,463.1 668.8,467.3 664.7,469.4 662.6,474.6 665.7,472.5 669.9,473.5 674,471.5"/><polyline points="674,493.3 666.8,494.4 662.6,497.5 662.6,500 674,500"/><polyline points="531.8,404.2 538,401 545.3,399.6 550.5,403.1 558.8,407.3 573,406.3 583.4,409.4 584.5,412.5 581.3,417.7 577.2,420.8 574,418 563,420.8 554.7,424 546.3,429.2 542.2,435 529.7,439.2 521.3,447.5 517.2,455.8 516.1,460 520,468 525.5,472.5 533.8,476.7 540.1,489.2 543.2,501.7 548.4,513.1 556.8,519.4 563,526.7 568.2,532.9 565.1,534.6 556.8,531.9 546.3,528.8 540.1,526 529.7,527.7 529.7,529.8 540.1,527.7 546.3,531.9 556.8,532.9 568.2,532.9 566.1,541.3 568.2,549.6 562,552.7 554.7,557.9 546.3,561.7 535.9,564.2 530.7,567.3 538,565.2 546.3,567.3 552.6,564.6 558.8,566.7 562,570.4 570.3,572.5 568.2,576.7 563,580.8 558.8,581.9 564,579.8 565,587 558.8,589.2 562,590.2 558.8,596.7 556.8,606 554.7,610.2 550.5,608.1 543.2,615.4 540.1,619.6 537,627.9 532.8,634.2 526.5,638.3 525.5,646.7 522.4,641.5 517.2,642.5 519.3,648.8 521.3,651"/><polyline points="535,435 538,437 541,435"/></g>
<g stroke="#000" stroke-width="1" stroke-dasharray="3.3 1.3" shape-rendering="crispEdges"><line x1="197.5" y1="115" x2="197.5" y2="651"/><line x1="306.5" y1="115" x2="306.5" y2="651"/><line x1="416.5" y1="115" x2="416.5" y2="651"/><line x1="526.5" y1="115" x2="526.5" y2="651"/><line x1="635.5" y1="115" x2="635.5" y2="651"/><line x1="93" y1="131.5" x2="673" y2="131.5"/><line x1="93" y1="241.5" x2="673" y2="241.5"/><line x1="93" y1="350.5" x2="673" y2="350.5"/><line x1="93" y1="460.5" x2="673" y2="460.5"/><line x1="93" y1="569.5" x2="673" y2="569.5"/></g>
<g font-size="19" stroke="#000" stroke-width="0.35">
<text class="serif" transform="translate(172.6,387) scale(1.15,1)">4</text>
<text class="serif" transform="translate(274.3,436) scale(1.15,1)">3</text>
<text class="serif" transform="translate(445,408) scale(1.15,1)">1</text>
</g>
<g fill="#000" shape-rendering="crispEdges"><circle cx="137" cy="383.5" r="9.3"/><circle cx="126" cy="423.3" r="9.3"/><circle cx="301" cy="337" r="9.3"/><circle cx="340.5" cy="335.6" r="9.3"/><circle cx="348.3" cy="415.5" r="9.3"/><circle cx="409" cy="401.7" r="9.3"/><circle cx="429.5" cy="365.9" r="9.3"/><circle cx="463.3" cy="356.9" r="9.3"/><circle cx="460.8" cy="370.5" r="9.3"/><circle cx="472.6" cy="365.4" r="9.3"/><circle cx="487.9" cy="359.5" r="9.3"/><circle cx="453.2" cy="410.2" r="9.3"/><circle cx="491.2" cy="414.5" r="9.3"/><circle cx="495.5" cy="423.8" r="9.3"/><circle cx="528.5" cy="413.6" r="9.3"/><circle cx="540" cy="416" r="9.3"/><circle cx="237.2" cy="462.2" r="9.3"/><circle cx="245.3" cy="473.2" r="9.3"/><circle cx="263.1" cy="474.1" r="9.3"/><circle cx="268.7" cy="465.6" r="9.3"/><circle cx="289.7" cy="467.3" r="9.3"/><circle cx="308.8" cy="457.2" r="9.3"/><circle cx="324" cy="446.2" r="9.3"/><circle cx="342.6" cy="435.2" r="9.3"/><circle cx="342.6" cy="445.3" r="9.3"/><circle cx="370.6" cy="445.2" r="9.3"/><circle cx="363.9" cy="458.7" r="9.3"/><circle cx="373.8" cy="480.8" r="9.3"/><circle cx="394.7" cy="478.8" r="9.3"/><circle cx="390.9" cy="435.9" r="9.3"/><circle cx="404.5" cy="429.1" r="9.3"/><circle cx="422.2" cy="435" r="9.3"/><circle cx="406" cy="445" r="9.3"/><circle cx="398.6" cy="456.2" r="9.3"/><circle cx="444.6" cy="444" r="9.3"/><circle cx="419.7" cy="463" r="9.3"/><circle cx="418.6" cy="463.9" r="9.3"/><circle cx="422" cy="480.8" r="9.3"/><circle cx="425.4" cy="500.2" r="9.3"/><circle cx="438.4" cy="447.9" r="9.3"/><circle cx="438.9" cy="470.6" r="9.3"/><circle cx="442.3" cy="488.4" r="9.3"/><circle cx="455.9" cy="460.5" r="9.3"/><circle cx="464.3" cy="460.5" r="9.3"/><circle cx="474.5" cy="466.4" r="9.3"/><circle cx="469.1" cy="486.7" r="9.3"/><circle cx="489.4" cy="484.2" r="9.3"/><circle cx="492.2" cy="463" r="9.3"/><circle cx="499.9" cy="447.8" r="9.3"/><circle cx="508.3" cy="462.2" r="9.3"/><circle cx="516.8" cy="475.7" r="9.3"/><circle cx="502.1" cy="502.8" r="9.3"/><circle cx="450.8" cy="479.1" r="9.3"/><circle cx="428.8" cy="464.8" r="9.3"/><circle cx="431.2" cy="476.6" r="9.3"/><circle cx="434.7" cy="487.1" r="9.3"/><circle cx="452.3" cy="471.9" r="9.3"/><circle cx="454.6" cy="463.7" r="9.3"/><circle cx="448.7" cy="481.3" r="9.3"/><circle cx="413.6" cy="436.7" r="9.3"/><circle cx="407.7" cy="452" r="9.3"/><circle cx="388.5" cy="478" r="9.3"/><circle cx="447.6" cy="451.9" r="9.3"/></g>
<circle cx="377.9" cy="436.7" r="2.8" fill="none" stroke="#000" stroke-width="1"/>
<path d="M450.5,336.5H474.5M462.5,324.5V348.5M450.5,324.5L474.5,348.5M450.5,348.5L474.5,324.5" stroke="#000" stroke-width="1" fill="none"/>
<rect x="93.5" y="115.5" width="580" height="536" fill="none" stroke="#000" stroke-width="1" shape-rendering="crispEdges"/>
<g shape-rendering="crispEdges">
<rect x="37.00" y="660" width="11.32" height="20" fill="#ffffff"/>
<rect x="47.72" y="660" width="11.32" height="20" fill="#fff0ff"/>
<rect x="58.43" y="660" width="11.32" height="20" fill="#ffe0ff"/>
<rect x="69.15" y="660" width="11.32" height="20" fill="#fbd0ff"/>
<rect x="79.86" y="660" width="11.32" height="20" fill="#f7c0ff"/>
<rect x="90.58" y="660" width="11.32" height="20" fill="#f2a8ff"/>
<rect x="101.29" y="660" width="11.32" height="20" fill="#ea88ff"/>
<rect x="112.01" y="660" width="11.32" height="20" fill="#e068ff"/>
<rect x="122.72" y="660" width="11.32" height="20" fill="#d030ff"/>
<rect x="133.44" y="660" width="11.32" height="20" fill="#c000ff"/>
<rect x="144.15" y="660" width="11.32" height="20" fill="#b400ff"/>
<rect x="154.87" y="660" width="11.32" height="20" fill="#a000ff"/>
<rect x="165.58" y="660" width="11.32" height="20" fill="#8800ff"/>
<rect x="176.30" y="660" width="11.32" height="20" fill="#6c00ff"/>
<rect x="187.01" y="660" width="11.32" height="20" fill="#5000ff"/>
<rect x="197.73" y="660" width="11.32" height="20" fill="#3400ff"/>
<rect x="208.44" y="660" width="11.32" height="20" fill="#1000ff"/>
<rect x="219.16" y="660" width="11.32" height="20" fill="#0040ff"/>
<rect x="229.87" y="660" width="11.32" height="20" fill="#0078ff"/>
<rect x="240.59" y="660" width="11.32" height="20" fill="#0090ff"/>
<rect x="251.30" y="660" width="11.32" height="20" fill="#00a4ff"/>
<rect x="262.02" y="660" width="11.32" height="20" fill="#00b8ff"/>
<rect x="272.73" y="660" width="11.32" height="20" fill="#00ccff"/>
<rect x="283.45" y="660" width="11.32" height="20" fill="#00e0ff"/>
<rect x="294.16" y="660" width="11.32" height="20" fill="#00f0ff"/>
<rect x="304.88" y="660" width="11.32" height="20" fill="#00ffff"/>
<rect x="315.59" y="660" width="11.32" height="20" fill="#00ffee"/>
<rect x="326.31" y="660" width="11.32" height="20" fill="#00ffdd"/>
<rect x="337.02" y="660" width="11.32" height="20" fill="#00ffcc"/>
<rect x="347.74" y="660" width="11.32" height="20" fill="#00ffbb"/>
<rect x="358.45" y="660" width="11.32" height="20" fill="#00ff99"/>
<rect x="369.17" y="660" width="11.32" height="20" fill="#00ff77"/>
<rect x="379.88" y="660" width="11.32" height="20" fill="#00ff44"/>
<rect x="390.60" y="660" width="11.32" height="20" fill="#00ff00"/>
<rect x="401.32" y="660" width="11.32" height="20" fill="#55ff00"/>
<rect x="412.03" y="660" width="11.32" height="20" fill="#80ff00"/>
<rect x="422.75" y="660" width="11.32" height="20" fill="#99ff00"/>
<rect x="433.46" y="660" width="11.32" height="20" fill="#b0ff00"/>
<rect x="444.18" y="660" width="11.32" height="20" fill="#c4ff00"/>
<rect x="454.89" y="660" width="11.32" height="20" fill="#d8ff00"/>
<rect x="465.61" y="660" width="11.32" height="20" fill="#ecff00"/>
<rect x="476.32" y="660" width="11.32" height="20" fill="#ffff00"/>
<rect x="487.04" y="660" width="11.32" height="20" fill="#fff000"/>
<rect x="497.75" y="660" width="11.32" height="20" fill="#ffe400"/>
<rect x="508.47" y="660" width="11.32" height="20" fill="#ffd800"/>
<rect x="519.18" y="660" width="11.32" height="20" fill="#ffcc00"/>
<rect x="529.90" y="660" width="11.32" height="20" fill="#ffbc00"/>
<rect x="540.61" y="660" width="11.32" height="20" fill="#ffa800"/>
<rect x="551.33" y="660" width="11.32" height="20" fill="#ff9800"/>
<rect x="562.04" y="660" width="11.32" height="20" fill="#ff7800"/>
<rect x="572.76" y="660" width="11.32" height="20" fill="#ff5800"/>
<rect x="583.47" y="660" width="11.32" height="20" fill="#ff1c00"/>
<rect x="594.19" y="660" width="11.32" height="20" fill="#ff0030"/>
<rect x="604.90" y="660" width="11.32" height="20" fill="#ff0058"/>
<rect x="615.62" y="660" width="11.32" height="20" fill="#ff0068"/>
<rect x="626.33" y="660" width="11.32" height="20" fill="#ff0078"/>
<rect x="637.05" y="660" width="11.32" height="20" fill="#ff0088"/>
<rect x="647.76" y="660" width="11.32" height="20" fill="#ff0098"/>
<rect x="658.48" y="660" width="11.32" height="20" fill="#fc00a8"/>
<rect x="669.19" y="660" width="11.32" height="20" fill="#e800b0"/>
<rect x="679.91" y="660" width="11.32" height="20" fill="#d400a8"/>
<rect x="690.62" y="660" width="11.32" height="20" fill="#c400a0"/>
<rect x="701.34" y="660" width="11.32" height="20" fill="#b40098"/>
<rect x="712.05" y="660" width="11.32" height="20" fill="#9c0088"/>
<rect x="722.77" y="660" width="11.32" height="20" fill="#800070"/>
<rect x="733.48" y="660" width="11.32" height="20" fill="#600058"/>
<rect x="37" y="660" width="707.2" height="20" fill="none" stroke="#000" stroke-width="2"/>
<rect x="101" y="660" width="2" height="20" fill="#000"/>
<rect x="164" y="660" width="2" height="20" fill="#000"/>
<rect x="229" y="660" width="2" height="20" fill="#000"/>
<rect x="293" y="660" width="2" height="20" fill="#000"/>
<rect x="358" y="660" width="2" height="20" fill="#000"/>
<rect x="422" y="660" width="2" height="20" fill="#000"/>
<rect x="486" y="660" width="2" height="20" fill="#000"/>
<rect x="550" y="660" width="2" height="20" fill="#000"/>
<rect x="615" y="660" width="2" height="20" fill="#000"/>
<rect x="679" y="660" width="2" height="20" fill="#000"/>
</g>
<text transform="translate(6,22.2) scale(1,0.93)" font-size="19.5" font-weight="bold" stroke="#000" stroke-width="0.5" textLength="757.0" lengthAdjust="spacingAndGlyphs" xml:space="preserve">Column-integrated emission sensitivity in nested domain for Shangdianzi_200706</text>
<text transform="translate(20,49.2) scale(1,0.93)" font-size="19.5" stroke="#000" stroke-width="0.4" textLength="727.0" lengthAdjust="spacingAndGlyphs" xml:space="preserve">Start time of sampling 20070626.150000     End time of sampling 20070626.180000</text>
<text transform="translate(110,76.6) scale(1,0.93)" font-size="19.5" stroke="#000" stroke-width="0.4" textLength="530.0" lengthAdjust="spacingAndGlyphs" xml:space="preserve">Lower release height   20 m          Upper release height    0 m</text>
<text transform="translate(195,103.8) scale(1,0.93)" font-size="19.5" stroke="#000" stroke-width="0.4" textLength="377.0" lengthAdjust="spacingAndGlyphs" xml:space="preserve">Meteorological data used are from ECMWF</text>
<text transform="translate(22,699) scale(1,0.95)" font-size="18" font-weight="bold" stroke="#000" stroke-width="0.5" textLength="15.3" lengthAdjust="spacingAndGlyphs" xml:space="preserve">0.</text>
<text transform="translate(102.7,699) scale(1,0.95)" font-size="18" font-weight="bold" stroke="#000" stroke-width="0.5" textLength="14.0" lengthAdjust="spacingAndGlyphs" xml:space="preserve">4.</text>
<text transform="translate(165.7,699) scale(1,0.95)" font-size="18" font-weight="bold" stroke="#000" stroke-width="0.5" textLength="16.0" lengthAdjust="spacingAndGlyphs" xml:space="preserve">8.</text>
<text transform="translate(224,699) scale(1,0.95)" font-size="18" font-weight="bold" stroke="#000" stroke-width="0.5" textLength="24.3" lengthAdjust="spacingAndGlyphs" xml:space="preserve">16.</text>
<text transform="translate(286.7,699) scale(1,0.95)" font-size="18" font-weight="bold" stroke="#000" stroke-width="0.5" textLength="26.0" lengthAdjust="spacingAndGlyphs" xml:space="preserve">31.</text>
<text transform="translate(351,699) scale(1,0.95)" font-size="18" font-weight="bold" stroke="#000" stroke-width="0.5" textLength="25.0" lengthAdjust="spacingAndGlyphs" xml:space="preserve">63.</text>
<text transform="translate(407.7,699) scale(1,0.95)" font-size="18" font-weight="bold" stroke="#000" stroke-width="0.5" textLength="35.6" lengthAdjust="spacingAndGlyphs" xml:space="preserve">125.</text>
<text transform="translate(472,699) scale(1,0.95)" font-size="18" font-weight="bold" stroke="#000" stroke-width="0.5" textLength="34.7" lengthAdjust="spacingAndGlyphs" xml:space="preserve">250.</text>
<text transform="translate(536,699) scale(1,0.95)" font-size="18" font-weight="bold" stroke="#000" stroke-width="0.5" textLength="35.3" lengthAdjust="spacingAndGlyphs" xml:space="preserve">500.</text>
<text transform="translate(593.7,699) scale(1,0.95)" font-size="18" font-weight="bold" stroke="#000" stroke-width="0.5" textLength="44.3" lengthAdjust="spacingAndGlyphs" xml:space="preserve">1000.</text>
<text transform="translate(657,699) scale(1,0.95)" font-size="18" font-weight="bold" stroke="#000" stroke-width="0.5" textLength="45.0" lengthAdjust="spacingAndGlyphs" xml:space="preserve">2000.</text>
<text transform="translate(713,699) scale(1,0.95)" font-size="18" font-weight="bold" stroke="#000" stroke-width="0.5" textLength="45.7" lengthAdjust="spacingAndGlyphs" xml:space="preserve">4000.</text>
<text transform="translate(346.7,726.5) scale(1,0.93)" font-size="19.5" stroke="#000" stroke-width="0.4" textLength="79.3" lengthAdjust="spacingAndGlyphs" xml:space="preserve">ns m / kg</text>
<text transform="translate(219.3,757) scale(1,0.93)" font-size="19.5" stroke="#000" stroke-width="0.4" textLength="327.7" lengthAdjust="spacingAndGlyphs" xml:space="preserve">Maximum value  0.316E+04 ns m / kg</text>
</svg>
</body></html>
